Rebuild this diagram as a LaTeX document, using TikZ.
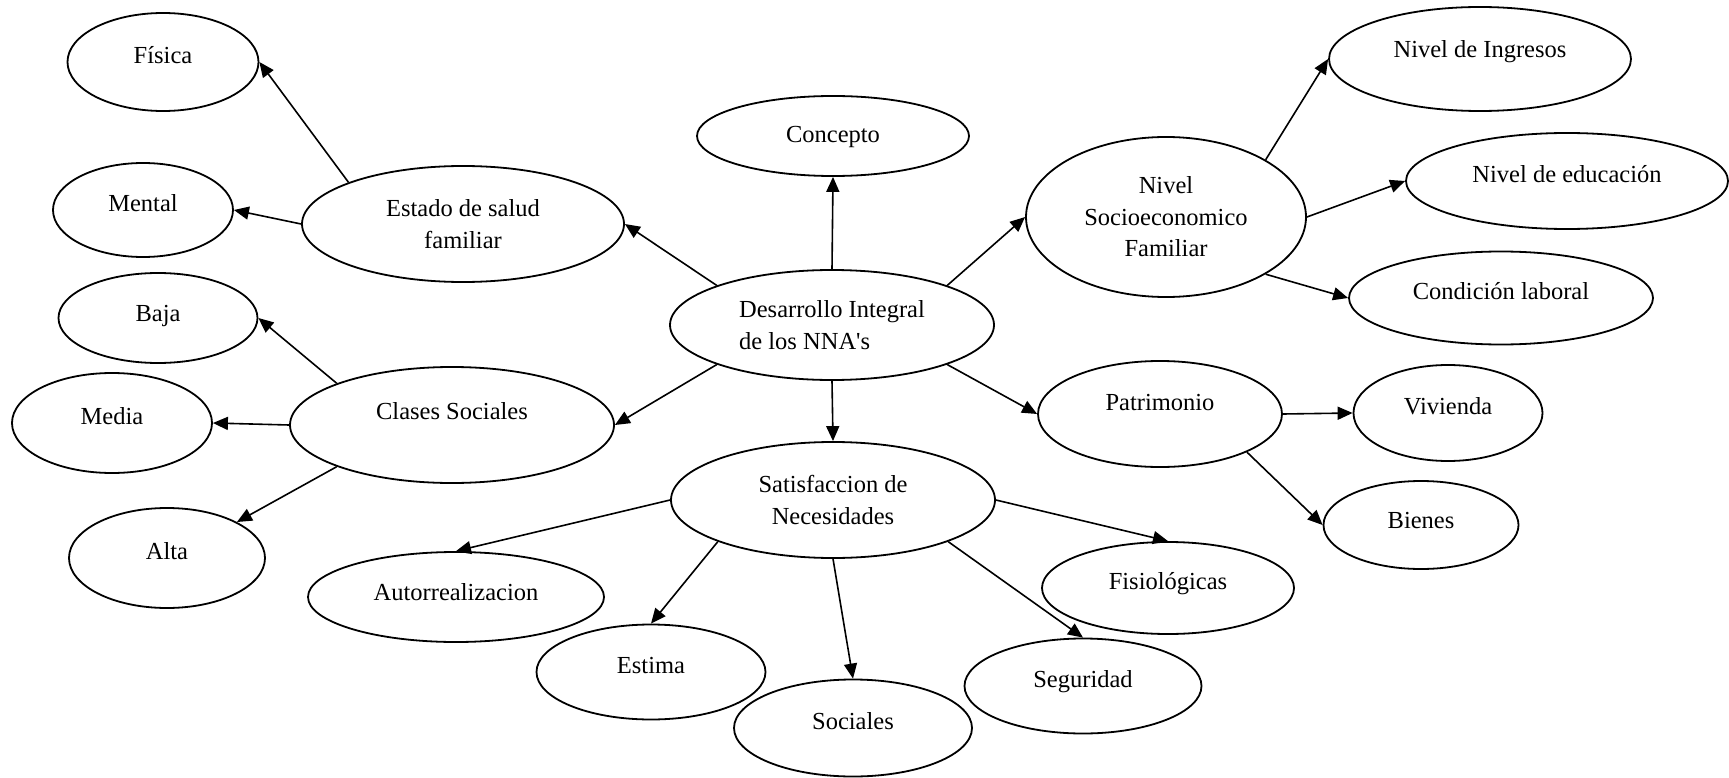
\documentclass[tikz,border=0pt]{standalone}
\usepackage{fontspec}
\setmainfont{Liberation Serif}
\usetikzlibrary{shapes.geometric,arrows.meta}

\begin{document}
\begin{tikzpicture}[x=1pt, y=-1pt,
  font=\fontsize{24.5}{31.5}\selectfont,
  elipse/.style={draw, ellipse, line width=1.8pt, inner sep=0pt, text height=17pt, text depth=14.8pt},
  bloque/.style={draw, ellipse, line width=1.8pt, inner sep=0pt, align=center},
  flecha/.style={-{Triangle[length=15pt,width=13pt]}, line width=1.6pt}]

\useasboundingbox (0,0) rectangle (1729,778);

% centro
\node[bloque, align=left, minimum width=324pt, minimum height=110pt] (desarrollo) at (832,325) {Desarrollo Integral\\de los NNA\textquotesingle s};
\node[elipse, text depth=4.8pt, minimum width=272pt, minimum height=80pt] (concepto) at (833,136) {Concepto};

% salud
\node[bloque, minimum width=322pt, minimum height=116pt] (estado) at (463,224) {Estado de salud\\familiar};
\node[elipse, minimum width=191pt, minimum height=98pt] (fisica) at (163,62) {Física};
\node[elipse, minimum width=180pt, minimum height=94pt] (mental) at (143,210) {Mental};

% clases
\node[elipse, text depth=27.8pt, minimum width=324pt, minimum height=116pt] (clases) at (452,425) {Clases Sociales};
\node[elipse, text depth=10pt, minimum width=199pt, minimum height=90pt] (baja) at (158,318) {Baja};
\node[elipse, minimum width=200pt, minimum height=100pt] (media) at (112,423) {Media};
\node[elipse, minimum width=196pt, minimum height=100pt] (alta) at (167,558) {Alta};

% nivel socioeconomico
\node[bloque, minimum width=280pt, minimum height=160pt] (nivelsocio) at (1166,217) {Nivel\\Socioeconomico\\Familiar};
\node[elipse, text depth=20.8pt, minimum width=302pt, minimum height=104pt] (ingresos) at (1480,59) {Nivel de Ingresos};
\node[elipse, minimum width=322pt, minimum height=96pt] (educacion) at (1567,181) {Nivel de educación};
\node[elipse, minimum width=304pt, minimum height=93pt] (condicion) at (1501,298) {Condición laboral};

% patrimonio
\node[elipse, text depth=24.8pt, minimum width=244pt, minimum height=106pt] (patrimonio) at (1160,414) {Patrimonio};
\node[elipse, minimum width=189pt, minimum height=96pt] (vivienda) at (1448,413) {Vivienda};
\node[elipse, text depth=10pt, minimum width=195pt, minimum height=88pt] (bienes) at (1421,525) {Bienes};

% necesidades
\node[bloque, minimum width=324pt, minimum height=116pt] (satisf) at (833,500) {Satisfaccion de\\Necesidades};
\node[elipse, text depth=10pt, minimum width=296pt, minimum height=90pt] (autorr) at (456,597) {Autorrealizacion};
\node[elipse, minimum width=229pt, minimum height=95pt] (estima) at (651,672) {Estima};
\node[elipse, minimum width=238pt, minimum height=97pt] (sociales) at (853,728) {Sociales};
\node[elipse, minimum width=237pt, minimum height=95pt] (seguridad) at (1083,686) {Seguridad};
\node[elipse, minimum width=252pt, minimum height=92pt] (fisiologicas) at (1168,588) {Fisiológicas};

\foreach \a/\b in {desarrollo.north/concepto.south, desarrollo.north west/estado.east,
  desarrollo.north east/nivelsocio.west, desarrollo.south west/clases.east,
  desarrollo.south/satisf.north, desarrollo.south east/patrimonio.west,
  estado.north west/fisica.east, estado.west/mental.east,
  clases.north west/baja.east, clases.west/media.east, clases.south west/alta.north east,
  nivelsocio.north east/ingresos.west, nivelsocio.east/educacion.west,
  nivelsocio.south east/condicion.west,
  patrimonio.east/vivienda.west, patrimonio.south east/bienes.west,
  satisf.west/autorr.north, satisf.south west/estima.north, satisf.south/sociales.north,
  satisf.east/fisiologicas.north, satisf.south east/seguridad.north}
  \draw[flecha] (\a) -- (\b);

\end{tikzpicture}
\end{document}
